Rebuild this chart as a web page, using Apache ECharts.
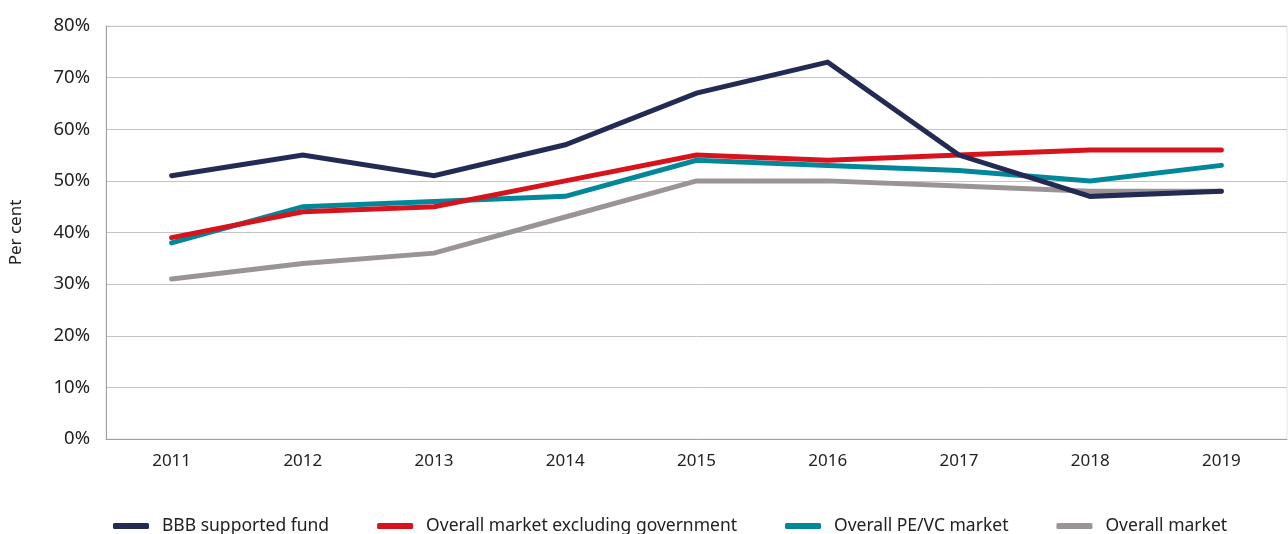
<!DOCTYPE html>
<html>
<head>
<meta charset="utf-8">
<script src="https://cdn.jsdelivr.net/npm/echarts@6/dist/echarts.min.js"></script>
<style>
  html, body { margin: 0; padding: 0; background: #fff; }
  #chart { width: 1288px; height: 534px; }
</style>
</head>
<body>
<div id="chart"></div>
<script>
// Share of funds by year, per cent
const years = ['2011', '2012', '2013', '2014', '2015', '2016', '2017', '2018', '2019'];
const bbbSupported = [51, 55, 51, 57, 67, 73, 55, 47, 48];
const marketExGov = [39, 44, 45, 50, 55, 54, 55, 56, 56];
const peVcMarket = [38, 45, 46, 47, 54, 53, 52, 50, 53];
const overallMarket = [31, 34, 36, 43, 50, 50, 49, 48, 48];

const seriesNames = ['BBB supported fund', 'Overall market excluding government', 'Overall PE/VC market', 'Overall market'];
const seriesColors = ['#232b55', '#d7141c', '#00889a', '#9b9497'];
const seriesData = [bbbSupported, marketExGov, peVcMarket, overallMarket];

const FONT = 'Noto Sans';
const chart = echarts.init(document.getElementById('chart'), null, { renderer: 'canvas' });

// draw order: grey underneath, navy on top
const order = [3, 2, 1, 0];

chart.setOption({
  animation: false,
  textStyle: { fontFamily: FONT },
  grid: { left: 104, right: 1, top: 26, bottom: 95, show: true, borderColor: '#e3e3e3', borderWidth: 1 },
  legend: {
    left: 108,
    top: 512,
    itemWidth: 36,
    itemHeight: 6,
    itemGap: 48,
    icon: 'roundRect',
    textStyle: { fontFamily: FONT, fontSize: 17.5, color: '#222', padding: [0, 0, 0, 8] },
    data: seriesNames.map((n, i) => ({ name: n, itemStyle: { color: seriesColors[i] } }))
  },
  xAxis: {
    type: 'category',
    data: years,
    boundaryGap: true,
    axisLine: { lineStyle: { color: '#a0a0a0', width: 1 } },
    axisTick: { show: false },
    axisLabel: { fontFamily: FONT, fontSize: 17, color: '#222', margin: 14 }
  },
  yAxis: {
    type: 'value',
    min: 0,
    max: 80,
    interval: 10,
    name: 'Per cent',
    nameLocation: 'middle',
    nameGap: 81,
    nameTextStyle: { fontFamily: FONT, fontSize: 17, color: '#222' },
    axisLine: { show: true, lineStyle: { color: '#a0a0a0', width: 1 } },
    axisTick: { show: false },
    axisLabel: { fontFamily: FONT, fontSize: 18.5, color: '#222', margin: 16, formatter: '{value}%' },
    splitLine: { lineStyle: { color: '#c4c4c4', width: 1 } }
  },
  series: order.map(i => ({
    name: seriesNames[i],
    type: 'line',
    data: seriesData[i],
    symbol: 'none',
    z: 10 - i,
    lineStyle: { color: seriesColors[i], width: 5, cap: 'round', join: 'miter' },
    itemStyle: { color: seriesColors[i] }
  }))
});
</script>
</body>
</html>
